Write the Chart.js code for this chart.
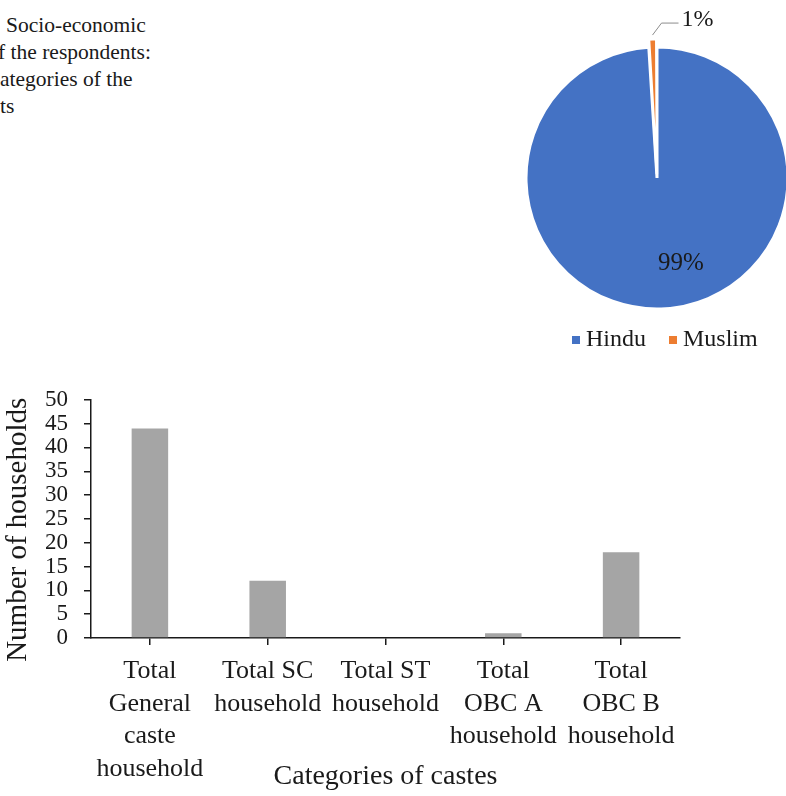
<!DOCTYPE html>
<html>
<head>
<meta charset="utf-8">
<script src="https://cdn.jsdelivr.net/npm/chart.js@4.4.1/dist/chart.umd.min.js"></script>
<style>
  html, body { margin: 0; padding: 0; background: #fff; width: 786px; height: 796px; overflow: hidden; }
  #caption {
    position: absolute; left: 0; top: 12px;
    font-family: "Liberation Serif", "Times New Roman", serif;
    font-size: 21.5px; line-height: 27px; color: #1a1a1a; white-space: nowrap;
  }
  #pieBox { position: absolute; left: 0; top: 0; width: 786px; height: 370px; }
  #barBox { position: absolute; left: 0; top: 370px; width: 786px; height: 426px; }
</style>
</head>
<body>
<div id="caption">
  <div style="padding-left:6px">Socio-economic</div>
  <div style="margin-left:-2px">f the respondents:</div>
  <div>ategories of the</div>
  <div>ts</div>
</div>
<div id="pieBox"><canvas id="pie"></canvas></div>
<div id="barBox"><canvas id="bar"></canvas></div>
<script>
// Religion of the respondents (share of households, %)
const religionLabels = ['Hindu', 'Muslim'];
const religionShares = [99, 1];
const religionColors = ['#4472C4', '#ED7D31'];
const religionOffsets = [0, 16];

// Caste categories (number of households)
const casteLabels = [
  ['Total', 'General', 'caste', 'household'],
  ['Total SC', 'household'],
  ['Total ST', 'household'],
  ['Total', 'OBC A', 'household'],
  ['Total', 'OBC B', 'household']
];
const casteHouseholds = [44, 12, 0, 1, 18];
const householdAxisMin = 0;
const householdAxisMax = 50;
const householdAxisStep = 5;

const SERIF = "'Liberation Serif', 'Times New Roman', serif";
const INK = '#1a1a1a';

// Percent labels, leader line and legend for the pie
const pieAnnotations = {
  id: 'pieAnnotations',
  afterDatasetsDraw(chart) {
    const ctx = chart.ctx;
    const ds = chart.data.datasets[0];
    const arcs = chart.getDatasetMeta(0).data;
    const big = arcs[0], small = arcs[1];
    ctx.save();
    ctx.fillStyle = INK;
    ctx.font = '25px ' + SERIF;
    ctx.textBaseline = 'middle';

    // label inside the large slice
    ctx.textAlign = 'center';
    ctx.fillText(ds.data[0] + '%', big.x + 24, big.y + 85);

    // leader line from just above the exploded small slice
    const mid = (small.startAngle + small.endAngle) / 2;
    const reach = big.outerRadius + 12;
    const sx = small.x + Math.cos(mid) * reach;
    const sy = small.y + Math.sin(mid) * reach;
    const ex = sx + 9, ey = sy - 12;
    ctx.strokeStyle = '#8c8c8c';
    ctx.lineWidth = 1;
    ctx.beginPath();
    ctx.moveTo(sx, sy);
    ctx.lineTo(ex, ey);
    ctx.lineTo(ex + 17, ey);
    ctx.stroke();
    ctx.textAlign = 'left';
    ctx.font = '24px ' + SERIF;
    ctx.fillText(ds.data[1] + '%', ex + 20, ey - 3);

    // legend
    ctx.font = '24px ' + SERIF;
    let lx = 572;
    const ly = 340;
    chart.data.labels.forEach((name, i) => {
      ctx.fillStyle = ds.backgroundColor[i];
      ctx.fillRect(lx, ly - 4, 8, 8);
      ctx.fillStyle = INK;
      ctx.fillText(name, lx + 14, ly);
      lx += 14 + ctx.measureText(name).width + 23;
    });
    ctx.restore();
  }
};

new Chart(document.getElementById('pie'), {
  type: 'pie',
  data: {
    labels: religionLabels,
    datasets: [{
      data: religionShares,
      backgroundColor: religionColors,
      borderColor: '#ffffff',
      borderWidth: [3, 2.5],
      offset: religionOffsets
    }]
  },
  options: {
    responsive: true,
    maintainAspectRatio: false,
    animation: false,
    radius: 131,
    layout: { padding: { left: 557, right: 29, top: 78, bottom: 92 } },
    events: [],
    plugins: { legend: { display: false }, tooltip: { enabled: false } }
  },
  plugins: [pieAnnotations]
});

new Chart(document.getElementById('bar'), {
  type: 'bar',
  data: {
    labels: casteLabels,
    datasets: [{
      data: casteHouseholds,
      backgroundColor: '#A5A5A5',
      borderWidth: 0,
      barPercentage: 1,
      categoryPercentage: 0.31
    }]
  },
  options: {
    responsive: true,
    maintainAspectRatio: false,
    animation: false,
    events: [],
    layout: { padding: { top: 27, right: 106, left: 0, bottom: 0 } },
    plugins: { legend: { display: false }, tooltip: { enabled: false } },
    scales: {
      x: {
        grid: { offset: false, drawOnChartArea: false, drawTicks: true, tickLength: 7, color: INK, lineWidth: 1.5 },
        border: { display: true, color: INK, width: 1.5 },
        ticks: { color: INK, font: { family: SERIF, size: 26, lineHeight: 1.25 }, padding: 10, maxRotation: 0, minRotation: 0, autoSkip: false },
        title: { display: true, text: 'Categories of castes', color: INK, font: { family: SERIF, size: 28, lineHeight: 1.2 }, padding: { top: 0, bottom: 3 } },
        afterFit(scale) { scale.height = 158; }
      },
      y: {
        min: householdAxisMin,
        max: householdAxisMax,
        grid: { drawOnChartArea: false, drawTicks: true, tickLength: 7, color: INK, lineWidth: 1.5 },
        border: { display: true, color: INK, width: 1.5 },
        ticks: { stepSize: householdAxisStep, autoSkip: false, color: INK, font: { family: SERIF, size: 23 }, padding: 16 },
        title: { display: true, text: 'Number of households   ', color: INK, font: { family: SERIF, size: 29, lineHeight: 1.2 }, padding: { top: 1, bottom: 0 } },
        afterFit(scale) { scale.width = 91; }
      }
    }
  }
});
</script>
</body>
</html>
